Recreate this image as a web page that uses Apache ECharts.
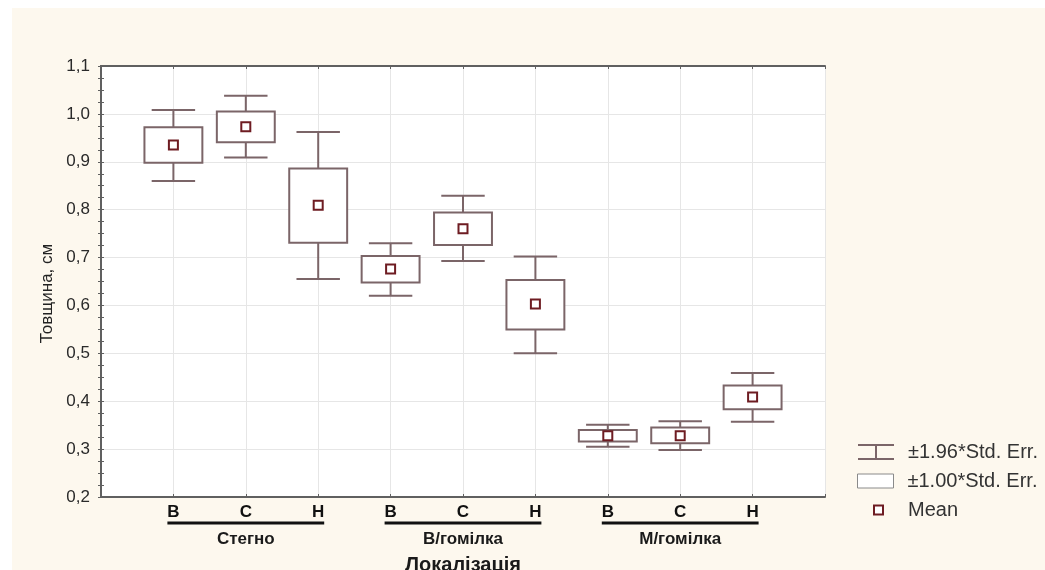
<!DOCTYPE html>
<html>
<head>
<meta charset="utf-8">
<script src="https://cdn.jsdelivr.net/npm/echarts@6/dist/echarts.min.js"></script>
<style>
  html, body { margin: 0; padding: 0; background: #ffffff; }
  #chart { position: absolute; left: 12px; top: 8px; width: 1033px; height: 562px; background: #fdf8ee; }
</style>
</head>
<body>
<div id="chart"></div>
<script>
// категорії по осі X (позиції 1..9)
const catLabels = ["В", "С", "Н", "В", "С", "Н", "В", "С", "Н"];
const catPos = [1, 2, 3, 4, 5, 6, 7, 8, 9];

// групи під віссю
const groupNames = ["Стегно", "В/гомілка", "М/гомілка"];
const groupStart = [1, 4, 7];
const groupEnd = [3, 6, 9];

// значення
const means = [0.935, 0.973, 0.809, 0.676, 0.760, 0.603, 0.328, 0.328, 0.409];
const boxHigh = [0.972, 1.005, 0.886, 0.703, 0.794, 0.653, 0.340, 0.345, 0.433];
const boxLow = [0.898, 0.941, 0.731, 0.648, 0.726, 0.550, 0.316, 0.312, 0.383];
const whiskerHigh = [1.008, 1.038, 0.962, 0.730, 0.829, 0.702, 0.351, 0.358, 0.459];
const whiskerLow = [0.860, 0.909, 0.655, 0.620, 0.693, 0.500, 0.305, 0.298, 0.357];

const yMin = 0.2, yMax = 1.1;

const boxColor = "#7b6568";
const meanColor = "#6e1c22";
const frameColor = "#606060";
const gridColor = "#e6e6e6";
const FONT = "Liberation Sans, Arial, sans-serif";

const chart = echarts.init(document.getElementById("chart"));

const whiskerData = catPos.map((x, i) => [x, whiskerLow[i], whiskerHigh[i]]);
const boxData = catPos.map((x, i) => [x, boxLow[i], boxHigh[i]]);
const meanData = catPos.map((x, i) => [x, means[i]]);
const groupData = groupStart.map((s, i) => [s, groupEnd[i], yMin, groupNames[i]]);

const fmtY = v => v.toFixed(1).replace(".", ",");

const legendText = { fontFamily: FONT, fontSize: 20, color: "#333" };

chart.setOption({
  animation: false,
  grid: {
    left: 89, top: 58, width: 724, height: 431, containLabel: false,
    outerBoundsMode: "none",
    show: true, backgroundColor: "#ffffff", borderWidth: 0
  },
  xAxis: [
    {
      type: "value", min: 0, max: 10, interval: 1,
      name: "Локалізація", nameLocation: "middle", nameGap: 58,
      nameTextStyle: { fontFamily: FONT, fontWeight: "bold", fontSize: 20, color: "#1a1a1a" },
      axisLine: { show: true, onZero: false, lineStyle: { color: frameColor, width: 2 } },
      axisTick: { show: true, inside: true, length: 3, lineStyle: { color: frameColor } },
      axisLabel: {
        margin: 7, fontFamily: FONT, fontWeight: "bold", fontSize: 17, color: "#111",
        formatter: v => (v >= 1 && v <= 9) ? catLabels[v - 1] : ""
      },
      splitLine: { show: true, lineStyle: { color: gridColor, width: 1 } }
    },
    {
      type: "value", min: 0, max: 10, interval: 1, position: "top",
      axisLine: { show: true, lineStyle: { color: frameColor, width: 2 } },
      axisTick: { show: true, inside: true, length: 3, lineStyle: { color: frameColor } },
      axisLabel: { show: false },
      splitLine: { show: false }
    }
  ],
  yAxis: [
    {
      type: "value", min: yMin, max: yMax, interval: 0.1,
      name: "Товщина, см", nameLocation: "middle", nameGap: 45, nameRotate: 90,
      nameTextStyle: { fontFamily: FONT, fontSize: 17, color: "#222", padding: [0, 24, 0, 0] },
      axisLine: { show: true, lineStyle: { color: frameColor, width: 2 } },
      axisTick: { show: true, inside: true, length: 3, lineStyle: { color: frameColor } },
      minorTick: { show: true, splitNumber: 4, length: 3, lineStyle: { color: frameColor } },
      axisLabel: { margin: 11, fontFamily: FONT, fontSize: 17, color: "#2a2a2a", formatter: fmtY },
      splitLine: { show: true, lineStyle: { color: gridColor, width: 1 } }
    },
    {
      type: "value", min: yMin, max: yMax, interval: 0.1, position: "right",
      axisLine: { show: true, lineStyle: { color: frameColor, width: 2 } },
      axisTick: { show: true, inside: true, length: 3, lineStyle: { color: frameColor } },
      minorTick: { show: true, splitNumber: 4, length: 3, lineStyle: { color: frameColor } },
      axisLabel: { show: false },
      splitLine: { show: false }
    }
  ],
  legend: [
    {
      left: 845, top: 434, orient: "vertical", padding: 0,
      itemWidth: 36, itemHeight: 16,
      textStyle: Object.assign({ padding: [0, 0, 0, 9] }, legendText),
      data: [{
        name: "±1.96*Std. Err.",
        icon: "path://M0,1L36,1M18,1L18,15M0,15L36,15",
        itemStyle: { color: "transparent", borderColor: boxColor, borderWidth: 2 }
      }]
    },
    {
      left: 845, top: 463, orient: "vertical", padding: 0,
      itemWidth: 36, itemHeight: 14,
      textStyle: Object.assign({ padding: [0, 0, 0, 9] }, legendText),
      data: [{
        name: "±1.00*Std. Err.",
        icon: "rect",
        itemStyle: { color: "#ffffff", borderColor: "#8a8a8a", borderWidth: 1 }
      }]
    },
    {
      left: 861, top: 492, orient: "vertical", padding: 0,
      itemWidth: 9, itemHeight: 9,
      textStyle: Object.assign({ padding: [0, 0, 0, 20] }, legendText),
      data: [{
        name: "Mean",
        icon: "rect",
        itemStyle: { color: "#ffffff", borderColor: meanColor, borderWidth: 2 }
      }]
    }
  ],
  series: [
    {
      name: "±1.96*Std. Err.",
      type: "custom",
      silent: true,
      encode: { x: 0, y: [1, 2] },
      data: whiskerData,
      renderItem: (params, api) => {
        const x = api.value(0);
        const lo = api.coord([x, api.value(1)]);
        const hi = api.coord([x, api.value(2)]);
        const half = api.size([0.6, 0])[0] / 2;
        const style = { stroke: boxColor, lineWidth: 2 };
        return {
          type: "group",
          children: [
            { type: "line", shape: { x1: lo[0], y1: lo[1], x2: hi[0], y2: hi[1] }, style },
            { type: "line", shape: { x1: hi[0] - half, y1: hi[1], x2: hi[0] + half, y2: hi[1] }, style },
            { type: "line", shape: { x1: lo[0] - half, y1: lo[1], x2: lo[0] + half, y2: lo[1] }, style }
          ]
        };
      }
    },
    {
      name: "±1.00*Std. Err.",
      type: "custom",
      silent: true,
      encode: { x: 0, y: [1, 2] },
      data: boxData,
      renderItem: (params, api) => {
        const x = api.value(0);
        const lo = api.coord([x, api.value(1)]);
        const hi = api.coord([x, api.value(2)]);
        const w = api.size([0.8, 0])[0];
        return {
          type: "rect",
          shape: { x: lo[0] - w / 2, y: hi[1], width: w, height: lo[1] - hi[1] },
          style: { fill: "#ffffff", stroke: boxColor, lineWidth: 2 }
        };
      }
    },
    {
      name: "Mean",
      type: "scatter",
      silent: true,
      symbol: "rect",
      symbolSize: 9,
      itemStyle: { color: "#ffffff", borderColor: meanColor, borderWidth: 2, opacity: 1 },
      data: meanData,
      z: 5
    },
    {
      name: "groups",
      type: "custom",
      silent: true,
      clip: false,
      encode: { x: [0, 1], y: 2 },
      data: groupData,
      renderItem: (params, api) => {
        const p1 = api.coord([api.value(0), api.value(2)]);
        const p2 = api.coord([api.value(1), api.value(2)]);
        const lineY = p1[1] + 26;
        return {
          type: "group",
          children: [
            {
              type: "line",
              shape: { x1: p1[0] - 6, y1: lineY, x2: p2[0] + 6, y2: lineY },
              style: { stroke: "#111", lineWidth: 3 }
            },
            {
              type: "text",
              style: {
                x: (p1[0] + p2[0]) / 2, y: lineY + 16,
                text: groupNames[params.dataIndex],
                align: "center", verticalAlign: "middle",
                font: "bold 17px " + FONT, fill: "#1a1a1a"
              }
            }
          ]
        };
      }
    }
  ]
});
</script>
</body>
</html>
